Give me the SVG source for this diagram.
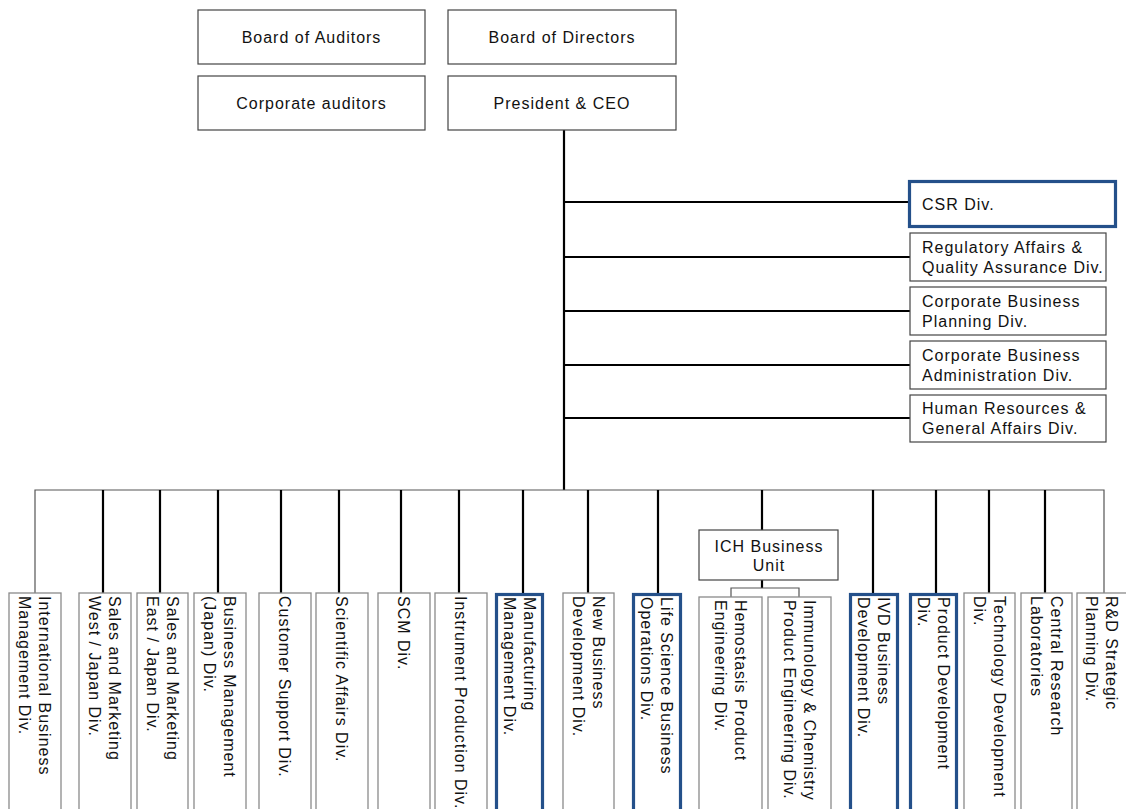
<svg xmlns="http://www.w3.org/2000/svg" width="1126" height="809" viewBox="0 0 1126 809">
<style>
text{font-family:"Liberation Sans",Arial,sans-serif;font-size:16px;fill:#111;letter-spacing:1px}
.c{text-anchor:middle}
.tb{fill:#fff;stroke:#444;stroke-width:1.2}
.gb{fill:#fff;stroke:#8a8a8a;stroke-width:1.3}
.bb{fill:#fff;stroke:#24508a;stroke-width:3.2}
.k{stroke:#000;stroke-width:2.2;fill:none}
.t{stroke:#555;stroke-width:1.2;fill:none}
</style>
<rect width="1126" height="809" fill="#fff"/>
<g id="connectors">
<path class="k" d="M564 130V490"/>
<path class="k" d="M564 202H908M564 257H910M564 311H910M564 365H910M564 418H910"/>
<path class="t" d="M35 593V490H1104V593"/>
<path class="k" d="M103 490V593M160 490V593M218 490V593M281 490V593M339 490V593M401 490V593M459 490V593M523 490V593M588 490V593M658 490V593M762 490V530M873 490V593M936 490V593M989 490V593M1045 490V593"/>
<path class="k" d="M762 580V588"/>
<path class="t" d="M731 597V588H799V597"/>
</g>
<g id="board-auditors"><rect class="tb" x="198" y="10" width="227" height="54"/><text class="c" x="311.5" y="42.7">Board of Auditors</text></g>
<g id="board-directors"><rect class="tb" x="448" y="10" width="228" height="54"/><text class="c" x="562" y="42.7">Board of Directors</text></g>
<g id="corporate-auditors"><rect class="tb" x="198" y="76" width="227" height="54"/><text class="c" x="311.5" y="108.7">Corporate auditors</text></g>
<g id="president"><rect class="tb" x="448" y="76" width="228" height="54"/><text class="c" x="562" y="108.7">President &amp; CEO</text></g>
<g id="csr"><rect class="bb" x="909.5" y="181.5" width="206" height="45"/><text x="922" y="209.5">CSR Div.</text></g>
<g id="regulatory"><rect class="tb" x="910" y="233" width="196" height="48"/><text x="922" y="252.8">Regulatory Affairs &amp;<tspan x="922" dy="20">Quality Assurance Div.</tspan></text></g>
<g id="planning"><rect class="tb" x="910" y="287" width="196" height="48"/><text x="922" y="306.8">Corporate Business<tspan x="922" dy="20">Planning Div.</tspan></text></g>
<g id="administration"><rect class="tb" x="910" y="341" width="196" height="48"/><text x="922" y="360.8">Corporate Business<tspan x="922" dy="20">Administration Div.</tspan></text></g>
<g id="hr"><rect class="tb" x="910" y="395" width="196" height="47"/><text x="922" y="414.3">Human Resources &amp;<tspan x="922" dy="20">General Affairs Div.</tspan></text></g>
<g id="ich"><rect class="tb" x="699" y="530" width="139" height="50"/><text class="c" x="769" y="552">ICH Business<tspan x="769" dy="19">Unit</tspan></text></g>
<g id="d1"><rect class="gb" x="9" y="593" width="52" height="240"/><text transform="translate(39.3,596) rotate(90)">International Business<tspan x="0" dy="20">Management Div.</tspan></text></g>
<g id="d2"><rect class="gb" x="79" y="593" width="52" height="240"/><text transform="translate(109.3,596) rotate(90)">Sales and Marketing<tspan x="0" dy="20">West / Japan Div.</tspan></text></g>
<g id="d3"><rect class="gb" x="137" y="593" width="51" height="240"/><text transform="translate(166.8,596) rotate(90)">Sales and Marketing<tspan x="0" dy="20">East / Japan Div.</tspan></text></g>
<g id="d4"><rect class="gb" x="194" y="593" width="52" height="240"/><text transform="translate(224.3,596) rotate(90)">Business Management<tspan x="0" dy="20">(Japan) Div.</tspan></text></g>
<g id="d5"><rect class="gb" x="259" y="593" width="52" height="240"/><text transform="translate(279.3,596) rotate(90)">Customer Support Div.</text></g>
<g id="d6"><rect class="gb" x="316" y="593" width="52" height="240"/><text transform="translate(336.3,596) rotate(90)">Scientific Affairs Div.</text></g>
<g id="d7"><rect class="gb" x="378" y="593" width="52" height="240"/><text transform="translate(398.3,596) rotate(90)">SCM Div.</text></g>
<g id="d8"><rect class="gb" x="435" y="593" width="52" height="240"/><text transform="translate(455.3,596) rotate(90)">Instrument Production Div.</text></g>
<g id="d9"><rect class="bb" x="496.5" y="594.5" width="46" height="240"/><text transform="translate(523.8,597) rotate(90)">Manufacturing<tspan x="0" dy="20">Management Div.</tspan></text></g>
<g id="d10"><rect class="gb" x="563" y="593" width="51" height="240"/><text transform="translate(592.8,596) rotate(90)">New Business<tspan x="0" dy="20">Development Div.</tspan></text></g>
<g id="d11"><rect class="bb" x="633.5" y="594.5" width="47" height="240"/><text transform="translate(661.3,597) rotate(90)">Life Science Business<tspan x="0" dy="20">Operations Div.</tspan></text></g>
<g id="d12"><rect class="gb" x="699" y="597" width="63" height="240"/><text transform="translate(734.8,600) rotate(90)">Hemostasis Product<tspan x="0" dy="20">Engineering Div.</tspan></text></g>
<g id="d13"><rect class="gb" x="768" y="597" width="63" height="240"/><text transform="translate(803.8,600) rotate(90)">Immunology &amp; Chemistry<tspan x="0" dy="20">Product Engineering Div.</tspan></text></g>
<g id="d14"><rect class="bb" x="850.5" y="594.5" width="47" height="240"/><text transform="translate(878.3,597) rotate(90)">IVD Business<tspan x="0" dy="20">Development Div.</tspan></text></g>
<g id="d15"><rect class="bb" x="910.5" y="594.5" width="46" height="240"/><text transform="translate(937.8,597) rotate(90)">Product Development<tspan x="0" dy="20">Div.</tspan></text></g>
<g id="d16"><rect class="gb" x="964" y="593" width="51" height="240"/><text transform="translate(993.8,596) rotate(90)">Technology Development<tspan x="0" dy="20">Div.</tspan></text></g>
<g id="d17"><rect class="gb" x="1021" y="593" width="51" height="240"/><text transform="translate(1050.8,596) rotate(90)">Central Research<tspan x="0" dy="20">Laboratories</tspan></text></g>
<g id="d18"><rect class="gb" x="1077" y="593" width="52" height="240"/><text transform="translate(1106.3,596) rotate(90)">R&amp;D Strategic<tspan x="0" dy="20">Planning Div.</tspan></text></g>
</svg>
